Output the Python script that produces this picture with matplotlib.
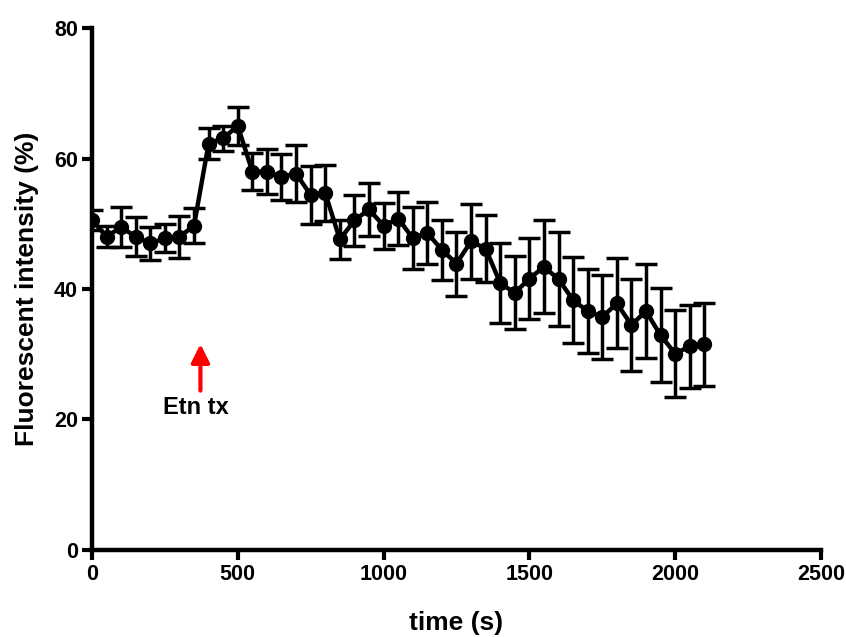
import numpy as np
import matplotlib.pyplot as plt

plt.rcParams['font.family'] = ['Liberation Sans', 'DejaVu Sans']
plt.rcParams['font.weight'] = 'bold'

# time points (s)
time_s = np.arange(0, 2101, 50)

# mean fluorescent intensity (%)
intensity = [50.6, 48.0, 49.5, 48.0, 47.0, 47.8, 48.0, 49.7, 62.3, 63.1,
             65.0, 58.0, 58.0, 57.2, 57.7, 54.4, 54.7, 47.6, 50.5, 52.2,
             49.7, 50.8, 47.8, 48.6, 46.0, 43.9, 47.3, 46.2, 40.9, 39.4,
             41.6, 43.4, 41.5, 38.3, 36.6, 35.7, 37.8, 34.5, 36.6, 32.9,
             30.1, 31.2, 31.5]

# error (SEM)
err = [1.5, 1.6, 3.0, 3.0, 2.5, 2.2, 3.2, 2.7, 2.4, 1.9,
       2.9, 2.8, 3.4, 3.5, 4.3, 4.5, 4.3, 3.0, 3.9, 4.1,
       3.5, 4.0, 4.7, 4.7, 4.6, 4.9, 5.7, 5.2, 6.1, 5.6,
       6.2, 7.1, 7.2, 6.6, 6.4, 6.4, 6.9, 7.0, 7.2, 7.2,
       6.7, 6.3, 6.4]

fig = plt.figure(figsize=(8.46, 6.37), dpi=100)
ax = fig.add_axes([0.1087, 0.1366, 0.8617, 0.8194])

ax.errorbar(time_s, intensity, yerr=err, color='black', lw=3.2,
            marker='o', ms=10, elinewidth=2.5, capsize=8, capthick=2.5,
            zorder=3)

# treatment marker
ax.annotate('', xy=(372, 32), xytext=(372, 24),
            arrowprops=dict(arrowstyle='-|>,head_width=0.55,head_length=1.1',
                            color='red', lw=3))
ax.text(358, 21.8, 'Etn tx', ha='center', va='center', fontsize=17,
        fontweight='bold')

ax.set_xlim(0, 2500)
ax.set_ylim(0, 80)
ax.set_xticks([0, 500, 1000, 1500, 2000, 2500])
ax.set_yticks([0, 20, 40, 60, 80])
ax.set_xlabel('time (s)', fontsize=19, fontweight='bold', labelpad=19)
ax.set_ylabel('Fluorescent intensity (%)', fontsize=19, fontweight='bold',
              labelpad=11)

for side in ['top', 'right']:
    ax.spines[side].set_visible(False)
for side in ['left', 'bottom']:
    ax.spines[side].set_linewidth(3.2)
ax.tick_params(width=3, length=7, labelsize=15.5, pad=3)
for lab in ax.get_xticklabels() + ax.get_yticklabels():
    lab.set_fontweight('bold')

fig.savefig('out.png', dpi=100)
